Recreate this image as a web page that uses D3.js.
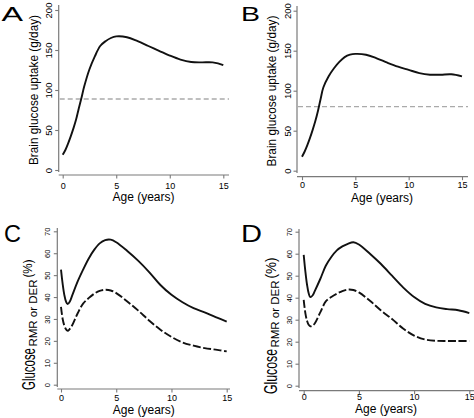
<!DOCTYPE html>
<html><head><meta charset="utf-8">
<script src="https://cdn.jsdelivr.net/npm/d3@7"></script>
<style>
body{margin:0;background:#fff}
svg{display:block}
text{font-family:"Liberation Sans",Arial,Helvetica,sans-serif;fill:#000}
</style>
</head><body>
<svg id="chart" width="474" height="418"></svg>
<script>
// ---------- data ----------
const xTicks = [0, 5, 10, 15];
const yTicksAB = [0, 50, 100, 150, 200];
const yTicksCD = [0, 10, 20, 30, 40, 50, 60, 70];

const agesAB = [0, 0.25, 0.5, 0.75, 1, 1.25, 1.5, 1.75, 2, 2.5, 3, 3.5, 4, 4.5, 5, 6, 7, 8, 9, 10, 11, 12, 13, 14, 15];
const uptakeA = [19, 25, 33, 42, 52, 63, 77, 90, 104, 126, 142, 155, 161, 165, 167, 166, 161, 155, 149, 143, 138, 135, 134.5, 134.5, 131];
const uptakeB = [17.5, 24, 32, 41, 51, 62, 75, 90, 104, 118, 128, 136, 142, 145, 146, 145, 140.5, 135, 130, 126, 122, 120, 120, 120.5, 118];
const refA = 88.75;
const refB = 80;

const agesCD = [0, 0.15, 0.3, 0.45, 0.6, 0.8, 1, 1.5, 2, 2.5, 3, 3.5, 4, 4.5, 5, 6, 7, 8, 9, 10, 11, 12, 13, 14, 15];
const glucoseCsolid  = [52.5, 46, 41, 38, 36.8, 38, 40.5, 47, 52.5, 57.5, 61.5, 64.5, 66, 66.2, 65, 61, 56.5, 51.3, 45.5, 41, 37.6, 34.9, 33, 30.8, 28.8];
const glucoseCdashed = [35.5, 30, 27, 25.3, 24.6, 25.5, 27, 32.5, 37, 39.5, 41.5, 42.8, 43.3, 43, 41.8, 38, 33.8, 29.2, 25.1, 21.8, 19.3, 17.8, 16.7, 16, 15.2];
const glucoseDsolid  = [59.5, 52, 46, 42, 40.3, 41, 43, 48.5, 54.5, 58.5, 61.5, 63.3, 64.5, 65.2, 64.2, 60, 55.3, 50, 44.7, 40.3, 37.2, 35.6, 34.8, 34.3, 33];
const glucoseDdashed = [39, 33, 29.5, 27.7, 27, 27.3, 28.3, 33.3, 38.3, 40.3, 41.8, 43, 43.7, 43.5, 42.4, 38.6, 34.2, 30.3, 26, 22.8, 21, 20.4, 20.3, 20.3, 20.3];

const panelLetters = ["A", "B", "C", "D"];
const xTitle = "Age (years)";
const yTitleAB = "Brain glucose uptake (g/day)";

// ---------- drawing ----------
const svg = d3.select("#chart");
const AXIS = "#7a7a7a";

function drawPanel(c) {
  const g = svg.append("g");
  const x = d3.scaleLinear().domain([0, 15]).range(c.xr);
  const y = d3.scaleLinear().domain(c.yd).range(c.yr);

  g.append("line").attr("x1", c.yAxisX).attr("x2", c.yAxisX).attr("y1", c.yLine[0]).attr("y2", c.yLine[1])
    .attr("stroke", AXIS).attr("stroke-width", 1.2);
  g.append("line").attr("x1", c.xLine[0]).attr("x2", c.xLine[1]).attr("y1", c.xAxisY).attr("y2", c.xAxisY)
    .attr("stroke", AXIS).attr("stroke-width", 1.2);

  const ya = g.append("g").attr("transform", `translate(${c.yAxisX},0)`)
    .call(d3.axisLeft(y).tickValues(c.yTicks).tickSize(3.5).tickSizeOuter(0));
  ya.select(".domain").remove();
  ya.selectAll(".tick line").attr("stroke", AXIS).attr("stroke-width", 1.1);
  ya.selectAll(".tick text")
    .attr("transform", "rotate(-90)")
    .attr("x", 0).attr("y", -c.yLabOff).attr("dy", 0)
    .attr("text-anchor", "middle")
    .style("font-size", c.yTickFont + "px")
    .style("font-family", '"Liberation Sans",Arial,sans-serif')
    .attr("fill", "#222");

  const xa = g.append("g").attr("transform", `translate(0,${c.xAxisY})`)
    .call(d3.axisBottom(x).tickValues(xTicks).tickSize(3.5).tickSizeOuter(0));
  xa.select(".domain").remove();
  xa.selectAll(".tick line").attr("stroke", AXIS).attr("stroke-width", 1.1);
  xa.selectAll(".tick text")
    .attr("y", c.xLabOff).attr("dy", 0)
    .style("font-size", c.xTickFont + "px")
    .style("font-family", '"Liberation Sans",Arial,sans-serif')
    .attr("fill", "#222");

  if (c.ref !== undefined) {
    g.append("line").attr("x1", c.yAxisX + 1).attr("x2", c.xLine[1])
      .attr("y1", y(c.ref)).attr("y2", y(c.ref))
      .attr("stroke", "#aaaaaa").attr("stroke-width", 1.3).attr("stroke-dasharray", "5,3");
  }

  const line = d3.line().x(d => x(d[0])).y(d => y(d[1])).curve(d3.curveCatmullRom.alpha(0.5));
  c.series.forEach(s => {
    g.append("path").datum(s.ages.map((a, i) => [a, s.vals[i]]))
      .attr("d", line).attr("fill", "none").attr("stroke", "#111")
      .attr("stroke-width", 1.9).attr("stroke-linejoin", "round")
      .attr("stroke-dasharray", s.dash || null);
  });

  g.append("text").attr("x", c.xTitleX).attr("y", c.xTitleY).attr("text-anchor", "middle")
    .style("font-size", "12px").text(xTitle);

  g.append("text").attr("x", c.letter.x).attr("y", c.letter.y)
    .attr("textLength", c.letter.len).attr("lengthAdjust", "spacingAndGlyphs")
    .style("font-size", c.letter.size + "px").text(c.letter.t);

  return {g, x, y};
}

const pA = drawPanel({
  xr: [62.7, 223.3], yd: [0, 200], yr: [170, 10], yAxisX: 58.7, xAxisY: 175,
  yLine: [5, 172], xLine: [58.7, 229], yTicks: yTicksAB, yLabOff: 6.3, yTickFont: 9.5,
  xLabOff: 13.5, xTickFont: 9, ref: refA,
  series: [{ages: agesAB, vals: uptakeA}],
  xTitleX: 143.5, xTitleY: 200.5,
  letter: {t: panelLetters[0], x: 1.5, y: 21, size: 21, len: 21.5}
});
svg.append("text").attr("transform", "translate(37.5,90) rotate(-90)").attr("text-anchor", "middle")
  .attr("textLength", 150).attr("lengthAdjust", "spacingAndGlyphs")
  .style("font-size", "12.5px").text(yTitleAB);

const pB = drawPanel({
  xr: [302, 462], yd: [0, 200], yr: [170.7, 10.7], yAxisX: 297, xAxisY: 176.7,
  yLine: [6, 173], xLine: [297, 468], yTicks: yTicksAB, yLabOff: 6.5, yTickFont: 9.5,
  xLabOff: 11.8, xTickFont: 9, ref: refB,
  series: [{ages: agesAB, vals: uptakeB}],
  xTitleX: 382, xTitleY: 201.5,
  letter: {t: panelLetters[1], x: 241, y: 21, size: 21, len: 19}
});
svg.append("text").attr("transform", "translate(276,91) rotate(-90)").attr("text-anchor", "middle")
  .attr("textLength", 151).attr("lengthAdjust", "spacingAndGlyphs")
  .style("font-size", "12.5px").text(yTitleAB);

const pC = drawPanel({
  xr: [61, 226.7], yd: [0, 70], yr: [384.7, 231.3], yAxisX: 57.3, xAxisY: 389,
  yLine: [228, 387], xLine: [57.3, 230], yTicks: yTicksCD, yLabOff: 7.3, yTickFont: 7.5,
  xLabOff: 11.5, xTickFont: 9, ref: undefined,
  series: [{ages: agesCD, vals: glucoseCsolid}, {ages: agesCD, vals: glucoseCdashed, dash: "8,2.5"}],
  xTitleX: 143.8, xTitleY: 413.5,
  letter: {t: panelLetters[2], x: 4, y: 242, size: 23, len: 17}
});

const pD = drawPanel({
  xr: [303.7, 469.3], yd: [0, 70], yr: [385.7, 231.7], yAxisX: 299, xAxisY: 390.7,
  yLine: [229, 388], xLine: [299, 474], yTicks: yTicksCD, yLabOff: 7.2, yTickFont: 7.5,
  xLabOff: 9.5, xTickFont: 9, ref: undefined,
  series: [{ages: agesCD, vals: glucoseDsolid}, {ages: agesCD, vals: glucoseDdashed, dash: "8,2.5"}],
  xTitleX: 386, xTitleY: 413,
  letter: {t: panelLetters[3], x: 241, y: 242, size: 23, len: 21}
});

function glucoseTitle(bx, by, opt) {
  const t = svg.append("g").attr("transform", `translate(${bx},${by}) rotate(-90)`);
  t.append("text").attr("x", 0).attr("y", 0)
    .attr("textLength", opt.gLen).attr("lengthAdjust", "spacingAndGlyphs")
    .style("font-size", opt.gSize + "px").text("Glucose");
  t.append("text").attr("x", opt.gLen + 1.5).attr("y", 1.5)
    .attr("textLength", opt.sLen).attr("lengthAdjust", "spacingAndGlyphs")
    .style("font-size", "10.5px").text("RMR or DER");
  t.append("text").attr("x", opt.gLen + opt.sLen + 3.5).attr("y", opt.pY)
    .attr("textLength", opt.pLen).attr("lengthAdjust", "spacingAndGlyphs")
    .style("font-size", opt.pSize + "px").text("(%)");
}
glucoseTitle(35, 390, {gLen: 42, gSize: 18, sLen: 67, pLen: 18, pSize: 12, pY: -3});
glucoseTitle(277, 394, {gLen: 45, gSize: 18, sLen: 67, pLen: 21, pSize: 14, pY: -1.5});
</script>
</body></html>
